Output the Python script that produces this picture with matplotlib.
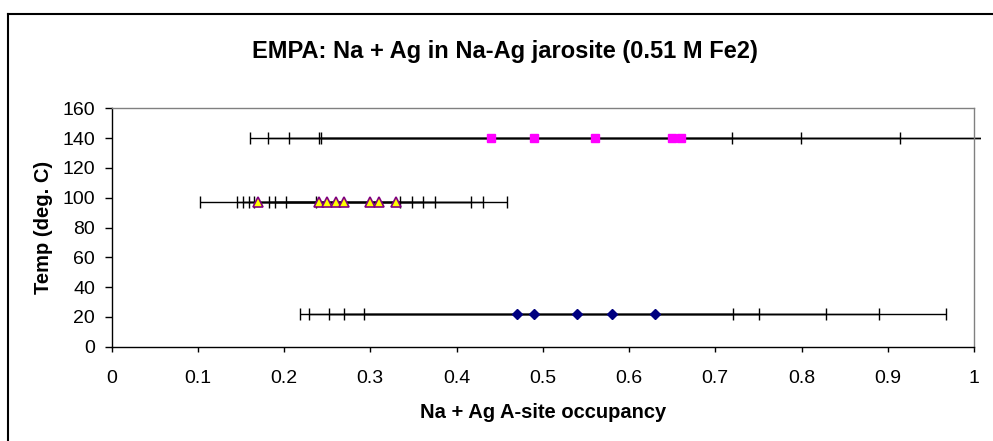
import matplotlib
matplotlib.use("Agg")
import matplotlib.pyplot as plt
from matplotlib.lines import Line2D
from matplotlib.transforms import Bbox, TransformedBbox

# EMPA results: A-site occupancy (Na + Ag) with +/- error, grouped by synthesis temperature
temp_low = 22
occ_low = [0.47, 0.49, 0.54, 0.58, 0.63]
err_low = [0.251, 0.261, 0.288, 0.310, 0.337]

temp_mid = 97
occ_mid = [0.17, 0.24, 0.25, 0.26, 0.27, 0.30, 0.31, 0.33]
err_mid = [0.067, 0.094, 0.098, 0.101, 0.105, 0.117, 0.121, 0.128]

temp_high = 140
occ_high = [0.44, 0.49, 0.56, 0.65, 0.66]
err_high = [0.279, 0.309, 0.354, 0.409, 0.417]

x_ticks = [0, 0.1, 0.2, 0.3, 0.4, 0.5, 0.6, 0.7, 0.8, 0.9, 1]
x_tick_labels = ["0", "0.1", "0.2", "0.3", "0.4", "0.5", "0.6", "0.7", "0.8", "0.9", "1"]
y_ticks = [0, 20, 40, 60, 80, 100, 120, 140, 160]

plt.rcParams["font.family"] = ["Liberation Sans", "DejaVu Sans"]

W, H = 993, 441
fig = plt.figure(figsize=(W / 100, H / 100), dpi=100)
ax = fig.add_axes([111.5 / W, 1 - 346.7 / H, 862.5 / W, 238.4 / H])

series = [
    (temp_low, occ_low, err_low, dict(marker="D", markersize=5.2, color="#000080",
                                      markeredgecolor="#000080")),
    (temp_mid, occ_mid, err_mid, dict(marker="^", markersize=7, color="#FFFF00",
                                      markeredgecolor="#800080", markeredgewidth=1.2)),
    (temp_high, occ_high, err_high, dict(marker="s", markersize=6, color="#FF00FF",
                                         markeredgecolor="#FF00FF")),
]

# error bars may run a few pixels past the right edge of the plot area
bar_clip = TransformedBbox(Bbox([[0, 0], [1.008, 1]]), ax.transAxes)

for temp, occ, err, style in series:
    temps = [temp] * len(occ)
    eb = ax.errorbar(occ, temps, xerr=err, fmt="none", ecolor="black",
                     elinewidth=1.0, capsize=4.3, capthick=1.0, zorder=2)
    for coll in eb.lines[2]:
        coll.set_clip_box(bar_clip)
    for cap in eb.lines[1]:
        cap.set_clip_box(bar_clip)
    ax.plot(occ, temps, linestyle="none", zorder=3, **style)

ax.set_xlim(0, 1)
ax.set_ylim(0, 160)
ax.set_xticks(x_ticks)
ax.set_xticklabels(x_tick_labels)
ax.set_yticks(y_ticks)
ax.tick_params(axis="x", direction="out", length=3.6, width=1, labelsize=14, pad=13.5)
ax.tick_params(axis="y", direction="out", length=4.8, width=1, labelsize=14, pad=7)

for side in ["left", "bottom"]:
    ax.spines[side].set_color("black")
    ax.spines[side].set_linewidth(1.0)
for side in ["top", "right"]:
    ax.spines[side].set_color("#808080")
    ax.spines[side].set_linewidth(1.0)

fig.text(542.75 / W, 1 - 418 / H, "Na + Ag A-site occupancy",
         ha="center", va="baseline", fontsize=14.5, fontweight="bold")
fig.text(43.5 / W, 1 - 227 / H, "Temp (deg. C)", rotation=90,
         ha="center", va="center", fontsize=14.5, fontweight="bold")
fig.text(505 / W, 1 - 58 / H, "EMPA: Na + Ag in Na-Ag jarosite (0.51 M Fe2)",
         ha="center", va="baseline", fontsize=17, fontweight="bold")

# chart area frame (runs off the right and bottom edges)
fig.add_artist(Line2D([8 / W, 8 / W], [0, 1 - 14 / H], transform=fig.transFigure,
                      color="black", linewidth=1.5))
fig.add_artist(Line2D([8 / W, 1], [1 - 14 / H, 1 - 14 / H], transform=fig.transFigure,
                      color="black", linewidth=1.5))

fig.savefig("out.png", dpi=100)
